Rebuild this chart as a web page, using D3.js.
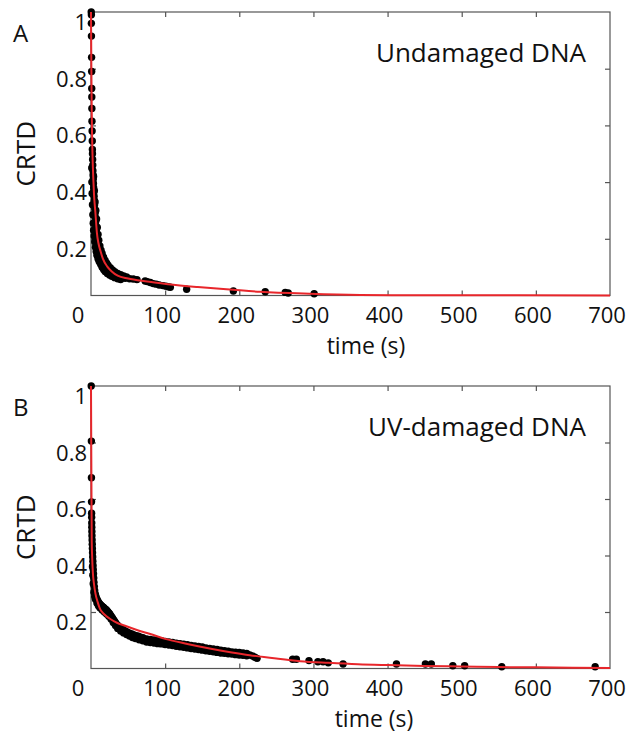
<!DOCTYPE html>
<html>
<head>
  <meta charset="utf-8">
  <script src="https://cdn.jsdelivr.net/npm/d3@7"></script>
  <style>
    body { margin: 0; background: #fff; }
    text { font-family: 'Open Sans', sans-serif; fill: #111; }
    .tick-label { font-size: 22px; }
    .axis-title { font-size: 23px; }
    .panel-title { font-size: 26px; }
    .panel-letter { font-size: 24px; }
    .frame { fill: none; stroke: #555; stroke-width: 1.2px; }
    .fit { fill: none; stroke: #e8262b; stroke-width: 2px; }
  </style>
</head>
<body>
<div id="chart"></div>
<script>

// tick labels
var xTicks = [0, 100, 200, 300, 400, 500, 600, 700];
var yTicks = [0.2, 0.4, 0.6, 0.8, 1];

// panel A: undamaged DNA, measured CRTD [time (s), value]
var undamagedPoints = [
  [0.3,1.0],[0.5,0.99],[0.5,0.96],[0.6,0.915],[0.8,0.84],[0.9,0.79],[1,0.73],[1.1,0.70],
  [1.2,0.66],[1.3,0.615],[1.5,0.58],[1.7,0.545],[1.9,0.515],[2,0.5],[2.2,0.48],[2.4,0.46],
  [2.6,0.44],[2.8,0.425],[3,0.41],[3.3,0.395],[3.6,0.38],[3.9,0.365],[4.2,0.35],[4.5,0.335],
  [4.8,0.32],[5.1,0.305],[5.5,0.29],[5.9,0.275],[6.3,0.26],[6.7,0.245],[7.1,0.23],[7.6,0.215],
  [8.1,0.2],[8.8,0.188],[9.5,0.177],[10.3,0.167],[11.2,0.157],[12.2,0.148],[13.3,0.14],
  [14.5,0.132],[15.8,0.125],[17.2,0.118],[18.7,0.111],[20.3,0.105],[22,0.099],[24,0.093],
  [26,0.088],[28.5,0.083],[31,0.078],[34,0.073],[37,0.069],[41,0.065],[46,0.061],[52,0.059],
  [57,0.058],[62,0.056],[73,0.051],[76,0.049],[80,0.046],[84,0.042],[88,0.04],[92,0.037],
  [97,0.035],[101,0.033],[104,0.031],[107,0.029],[129,0.022],[192,0.016],[235,0.013],
  [262,0.011],[266,0.009],[301,0.006],
  // upper edge of the dense band
  [3.5,0.42],[4.5,0.37],[5.5,0.33],[6.5,0.3],[7.5,0.27],[8.5,0.24],[9.5,0.215],[10.5,0.195],
  [12,0.175],[13.5,0.16],[15,0.148],[17,0.135],[19,0.124],[21,0.115],[23,0.107],[26,0.098],
  [29,0.09],[32,0.084],[36,0.078],[40,0.073],[44,0.069],[48,0.065],
  // lower edge of the dense band
  [1,0.45],[1.2,0.4],[1.5,0.36],[2,0.32],[2.5,0.285],[3,0.255],[3.5,0.23],[4.2,0.21],[5,0.19],
  [6,0.17],[7,0.155],[8,0.142],[9.5,0.13],[11,0.12],[13,0.11],[15,0.1],[17,0.092],[19,0.085],
  [22,0.078],[25,0.072],[28,0.068],[32,0.063],[36,0.059],[40,0.056]
];

// panel A fitted curve
var undamagedFit = [
  [0,1.0],[0.5,0.8],[1,0.65],[2,0.5],[3,0.42],[4,0.36],[6,0.29],[8,0.22],[10,0.185],
  [13,0.155],[16,0.13],[22,0.102],[28,0.085],[36,0.07],[50,0.06],[73,0.05],[104,0.04],
  [144,0.03],[192,0.02],[228,0.013],[295,0.006],[363,0.002],[450,0.0008],[700,0.0003]
];

// panel B: UV-damaged DNA, measured CRTD [time (s), value]
var damagedPoints = [
  [0.3,1.0],[0.5,0.805],[0.6,0.675],[0.7,0.59],[0.8,0.55],[0.9,0.535],[1,0.515],[1.1,0.5],
  [1.2,0.485],[1.3,0.47],[1.5,0.455],[1.7,0.44],[1.9,0.425],[2.1,0.41],[2.3,0.395],[2.5,0.38],
  [2.8,0.365],[3.1,0.35],[3.4,0.335],[3.7,0.32],[4,0.305],[4.5,0.29],
  [5,0.275],[6,0.262],[7,0.252],[8,0.245],[9,0.24],[10,0.235],[11,0.231],[12,0.228],
  [13,0.225],[14,0.222],[15,0.22],[16,0.218],[17,0.216],[18,0.213],[19,0.211],[20,0.209],
  [21,0.206],[22,0.203],[23,0.2],[24,0.197],[25,0.194],[26,0.19],[27,0.186],[28,0.182],
  [29,0.178],[30,0.174],[31,0.17],[32,0.166],[33,0.162],[34,0.158],[35,0.155],[36,0.152],
  [38,0.147],[40,0.143],[42,0.139],[44,0.136],[46,0.133],[48,0.13],[50,0.127],[52,0.125],
  [55,0.122],[58,0.119],[61,0.116],[64,0.114],[67,0.111],[70,0.109],
  // lower edge of the dense band
  [2,0.36],[2.5,0.33],[3,0.3],[4,0.27],[5,0.255],[6,0.245],[8,0.232],[10,0.222],[12,0.215],
  [15,0.207],[18,0.2],[21,0.193],[24,0.185],[27,0.175],[30,0.163],[33,0.152],[36,0.142],
  [40,0.133],[44,0.126],[48,0.12],[52,0.115],[56,0.11],[60,0.106],[65,0.102],[70,0.098],
  // slow tail, two rows
  [75,0.094],[75,0.105],[80,0.092],[80,0.103],[85,0.09],[85,0.101],[90,0.088],[90,0.099],
  [95,0.087],[95,0.098],[100,0.085],[100,0.096],[105,0.083],[105,0.094],[110,0.081],
  [110,0.092],[115,0.079],[115,0.09],[120,0.077],[120,0.088],[125,0.075],[125,0.086],
  [130,0.073],[130,0.084],[135,0.071],[135,0.082],[140,0.069],[140,0.08],[145,0.067],
  [145,0.078],[150,0.065],[150,0.076],[155,0.063],[155,0.073],[160,0.061],[160,0.071],
  [165,0.059],[165,0.069],[170,0.057],[170,0.067],[175,0.055],[175,0.065],[180,0.054],
  [180,0.063],[185,0.052],[185,0.061],[190,0.051],[190,0.059],[195,0.049],[195,0.058],
  [200,0.048],[200,0.057],[205,0.047],[205,0.055],[210,0.045],[210,0.053],[214,0.048],
  [218,0.044],[221,0.04],[224,0.036],
  [272,0.033],[277,0.033],[294,0.028],[306,0.024],[313,0.024],[320,0.02],[340,0.016],
  [412,0.016],[451,0.016],[459,0.016],[488,0.01],[504,0.01],[554,0.006],[680,0.006]
];

// panel B fitted curve
var damagedFit = [
  [0,1.0],[0.4,0.75],[0.8,0.55],[1,0.45],[1.5,0.4],[2.5,0.34],[4,0.3],[6,0.265],[9,0.235],
  [12,0.212],[16,0.197],[20,0.187],[25,0.177],[30,0.169],[35,0.162],[45,0.152],[60,0.138],
  [80,0.122],[100,0.105],[130,0.087],[160,0.071],[190,0.057],[214,0.047],[250,0.035],
  [282,0.026],[320,0.02],[360,0.015],[400,0.012],[450,0.009],[500,0.007],[550,0.005],
  [600,0.004],[650,0.003],[700,0.002]
];

var svg = d3.select("#chart").append("svg")
    .attr("width", 637)
    .attr("height", 734);

function drawPanel(opts) {
  var x = d3.scaleLinear().domain([0, 700]).range([91, 610]);
  var y = d3.scaleLinear().domain([0, 1]).range([opts.bottom, opts.top]);
  var g = svg.append("g");

  // inward ticks on all four sides
  var inner = [100, 200, 300, 400, 500, 600];
  var innerY = [0.2, 0.4, 0.6, 0.8];
  g.append("g").attr("transform", "translate(0," + opts.bottom + ")")
    .call(d3.axisBottom(x).tickValues(inner).tickSize(-5).tickFormat(""));
  g.append("g").attr("transform", "translate(0," + opts.top + ")")
    .call(d3.axisTop(x).tickValues(inner).tickSize(-5).tickFormat(""));
  g.append("g").attr("transform", "translate(91,0)")
    .call(d3.axisLeft(y).tickValues(innerY).tickSize(-5).tickFormat(""));
  g.append("g").attr("transform", "translate(610,0)")
    .call(d3.axisRight(y).tickValues(innerY).tickSize(-5).tickFormat(""));
  g.selectAll(".domain").remove();
  g.selectAll(".tick line").attr("stroke", "#555").attr("stroke-width", 1.2);

  g.append("rect").attr("class", "frame")
    .attr("x", 91).attr("y", opts.top)
    .attr("width", 610 - 91).attr("height", opts.bottom - opts.top);

  // tick labels
  g.selectAll(".xlab").data(xTicks).enter().append("text")
    .attr("class", "tick-label")
    .attr("x", function(d) { return x(d) - (d === 0 ? 13 : 3); })
    .attr("y", opts.bottom + 27)
    .attr("text-anchor", "middle")
    .text(function(d) { return d; });
  g.selectAll(".ylab").data(yTicks).enter().append("text")
    .attr("class", "tick-label")
    .attr("x", 87)
    .attr("y", function(d) { return y(d) + 18; })
    .attr("text-anchor", "end")
    .text(function(d) { return d; });

  // axis titles
  g.append("text").attr("class", "axis-title")
    .attr("x", opts.xTitleX).attr("y", opts.bottom + 58)
    .attr("text-anchor", "middle")
    .text("time (s)");
  g.append("text").attr("class", "axis-title")
    .attr("transform", "translate(35," + (opts.top + opts.bottom) / 2 + ") rotate(-90)")
    .attr("text-anchor", "middle")
    .style("font-size", "26px")
    .text("CRTD");

  g.append("text").attr("class", "panel-letter")
    .attr("x", 13).attr("y", opts.top + 30)
    .text(opts.letter);
  g.append("text").attr("class", "panel-title")
    .attr("x", 586).attr("y", opts.top + 50)
    .attr("text-anchor", "end")
    .text(opts.title);

  // data
  g.selectAll(".pt").data(opts.points).enter().append("circle")
    .attr("cx", function(d) { return x(d[0]); })
    .attr("cy", function(d) { return y(d[1]); })
    .attr("r", 3.7)
    .attr("fill", "#000");

  var line = d3.line()
    .x(function(d) { return x(d[0]); })
    .y(function(d) { return y(d[1]); })
    .curve(d3.curveMonotoneX);
  g.append("path").attr("class", "fit").attr("d", line(opts.fit));
}

drawPanel({ top: 12, bottom: 295.5, letter: "A", title: "Undamaged DNA",
            points: undamagedPoints, fit: undamagedFit, xTitleX: 366 });
drawPanel({ top: 386, bottom: 668.5, letter: "B", title: "UV-damaged DNA",
            points: damagedPoints, fit: damagedFit, xTitleX: 374 });

</script>
</body>
</html>
